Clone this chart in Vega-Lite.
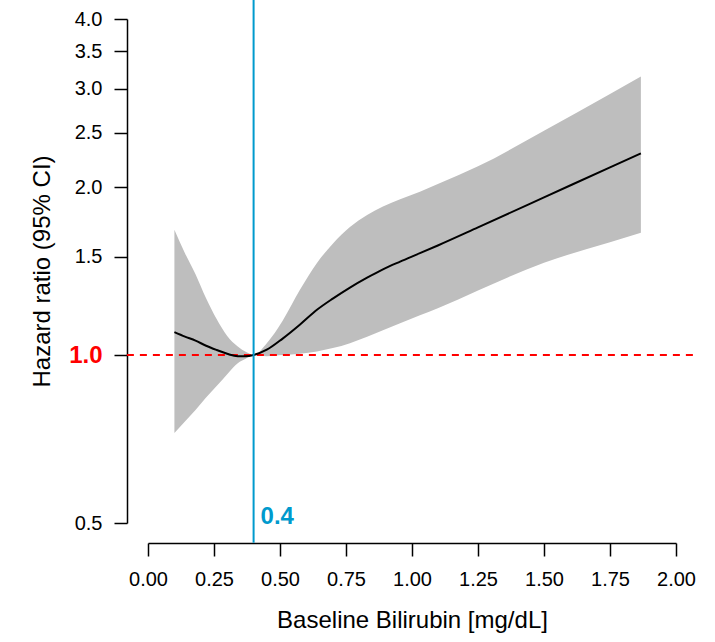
{
  "$schema": "https://vega.github.io/schema/vega-lite/v6.json",
  "width": 528,
  "height": 504,
  "autosize": {"type": "none"},
  "padding": {"left": 148, "top": 19, "right": 39, "bottom": 119},
  "background": "white",
  "config": {
    "view": {"stroke": null},
    "font": "Liberation Sans",
    "axis": {
      "grid": false,
      "domainColor": "black",
      "domainWidth": 1.5,
      "tickColor": "black",
      "tickWidth": 1.5,
      "tickSize": 13,
      "labelColor": "black",
      "labelFont": "Liberation Sans",
      "labelOverlap": false,
      "labelFlush": false,
      "titleFont": "Liberation Sans",
      "titleColor": "black",
      "titleFontWeight": "normal"
    }
  },
  "datasets": {
    "curve": [
      {"bilirubin": 0.1, "hr": 1.099, "lower": 0.725, "upper": 1.676},
      {"bilirubin": 0.14, "hr": 1.079, "lower": 0.76, "upper": 1.522},
      {"bilirubin": 0.18, "hr": 1.061, "lower": 0.797, "upper": 1.396},
      {"bilirubin": 0.22, "hr": 1.039, "lower": 0.839, "upper": 1.264},
      {"bilirubin": 0.26, "hr": 1.021, "lower": 0.88, "upper": 1.16},
      {"bilirubin": 0.3, "hr": 1.005, "lower": 0.924, "upper": 1.082},
      {"bilirubin": 0.34, "hr": 0.995, "lower": 0.967, "upper": 1.036},
      {"bilirubin": 0.37, "hr": 0.995, "lower": 0.985, "upper": 1.013},
      {"bilirubin": 0.4, "hr": 1.0, "lower": 1.0, "upper": 1.0},
      {"bilirubin": 0.45, "hr": 1.022, "lower": 0.995, "upper": 1.05},
      {"bilirubin": 0.51, "hr": 1.07, "lower": 1.0, "upper": 1.152},
      {"bilirubin": 0.575, "hr": 1.133, "lower": 1.005, "upper": 1.307},
      {"bilirubin": 0.64, "hr": 1.205, "lower": 1.015, "upper": 1.462},
      {"bilirubin": 0.7, "hr": 1.262, "lower": 1.029, "upper": 1.583},
      {"bilirubin": 0.765, "hr": 1.321, "lower": 1.05, "upper": 1.695},
      {"bilirubin": 0.83, "hr": 1.376, "lower": 1.078, "upper": 1.782},
      {"bilirubin": 0.89, "hr": 1.424, "lower": 1.107, "upper": 1.846},
      {"bilirubin": 0.955, "hr": 1.47, "lower": 1.14, "upper": 1.902},
      {"bilirubin": 1.03, "hr": 1.522, "lower": 1.178, "upper": 1.962},
      {"bilirubin": 1.1, "hr": 1.573, "lower": 1.214, "upper": 2.026},
      {"bilirubin": 1.25, "hr": 1.693, "lower": 1.305, "upper": 2.178},
      {"bilirubin": 1.5, "hr": 1.916, "lower": 1.463, "upper": 2.523},
      {"bilirubin": 1.75, "hr": 2.169, "lower": 1.593, "upper": 2.934},
      {"bilirubin": 1.867, "hr": 2.298, "lower": 1.656, "upper": 3.155}
    ]
  },
  "layer": [
    {
      "data": {"name": "curve"},
      "mark": {"type": "area", "color": "#BEBEBE", "opacity": 1, "interpolate": "monotone"},
      "encoding": {
        "x": {
          "field": "bilirubin",
          "type": "quantitative",
          "scale": {"domain": [0, 2], "nice": false, "zero": false},
          "axis": {
            "title": "Baseline Bilirubin [mg/dL]",
            "values": [0, 0.25, 0.5, 0.75, 1, 1.25, 1.5, 1.75, 2],
            "format": ".2f",
            "offset": 20,
            "labelFontSize": 20,
            "labelPadding": 13,
            "titleFontSize": 24,
            "titlePadding": 19
          }
        },
        "y": {
          "field": "lower",
          "type": "quantitative",
          "scale": {"type": "log", "domain": [0.5, 4], "nice": false},
          "axis": {
            "title": "Hazard ratio (95% CI)",
            "values": [0.5, 1, 1.5, 2, 2.5, 3, 3.5, 4],
            "format": ".1f",
            "offset": 21,
            "labelPadding": 12,
            "labelFontSize": {"condition": {"test": "datum.value === 1", "value": 24}, "value": 20},
            "labelFontWeight": {"condition": {"test": "datum.value === 1", "value": "bold"}, "value": "normal"},
            "labelColor": {"condition": {"test": "datum.value === 1", "value": "#FF0000"}, "value": "black"},
            "titleFontSize": 24,
            "titlePadding": 14
          }
        },
        "y2": {"field": "upper"}
      }
    },
    {
      "data": {"values": [{"ref": 1, "from": -0.08, "to": 2.08}]},
      "mark": {"type": "rule", "color": "#FF0000", "strokeWidth": 2, "strokeDash": [7, 6], "clip": false},
      "encoding": {
        "x": {"field": "from", "type": "quantitative"},
        "x2": {"field": "to"},
        "y": {"field": "ref", "type": "quantitative"}
      }
    },
    {
      "data": {"name": "curve"},
      "mark": {"type": "line", "color": "black", "strokeWidth": 2, "interpolate": "monotone"},
      "encoding": {
        "x": {"field": "bilirubin", "type": "quantitative"},
        "y": {"field": "hr", "type": "quantitative"}
      }
    },
    {
      "data": {"values": [{"cut": 0.4, "bottom": 0.461, "top": 4.33}]},
      "mark": {"type": "rule", "color": "#009ACD", "strokeWidth": 2, "clip": false},
      "encoding": {
        "x": {"field": "cut", "type": "quantitative"},
        "y": {"field": "bottom", "type": "quantitative"},
        "y2": {"field": "top"}
      }
    },
    {
      "data": {"values": [{"cut": 0.4, "pos": 0.513, "label": "0.4"}]},
      "mark": {"type": "text", "color": "#009ACD", "fontSize": 24, "fontWeight": "bold", "align": "left", "baseline": "middle", "dx": 7, "clip": false},
      "encoding": {
        "x": {"field": "cut", "type": "quantitative"},
        "y": {"field": "pos", "type": "quantitative"},
        "text": {"field": "label"}
      }
    }
  ]
}
